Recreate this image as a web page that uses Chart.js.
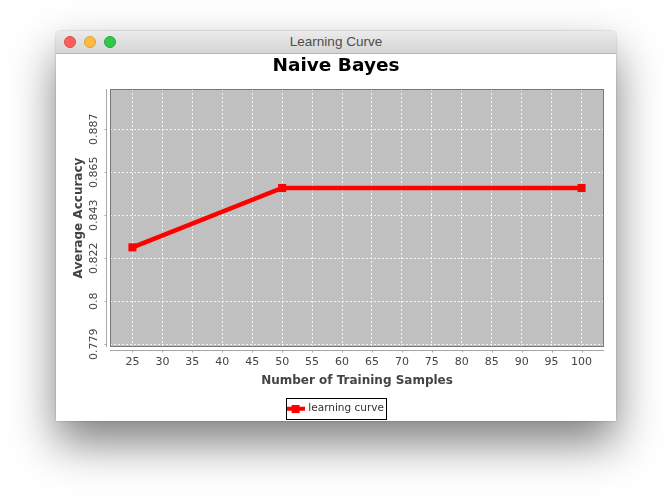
<!DOCTYPE html>
<html lang="en">
  <head>
    <meta charset="utf-8" />
    <title>Learning Curve</title>
    <style>
      * {
        margin: 0;
        padding: 0;
      }
      body {
        background: #fff;
        width: 672px;
        height: 501px;
        overflow: hidden;
      }
      .window {
        position: absolute;
        left: 56px;
        top: 31px;
        width: 560px;
        height: 390px;
        background: #fff;
        border-radius: 5px 5px 0 0;
        overflow: hidden;
        box-shadow: 0 22px 45px rgba(0, 0, 0, 0.5), 0 0 2px rgba(0, 0, 0, 0.3);
      }
      .titleBar {
        position: relative;
        height: 22px;
        border-bottom: 1px solid #b4b4b4;
        background: linear-gradient(#ebebeb, #d5d5d5);
        font-family: 'Liberation Sans', sans-serif;
        font-size: 13.5px;
        line-height: 22px;
        color: #4d4d4d;
        text-align: center;
      }
      .light {
        position: absolute;
        top: 5px;
        width: 12px;
        height: 12px;
        border-radius: 50%;
        box-sizing: border-box;
      }
      .red { left: 8px; background: #fc605c; border: 1px solid #e14942; }
      .yellow { left: 28px; background: #fdbc40; border: 1px solid #dfa034; }
      .green { left: 48px; background: #34c84a; border: 1px solid #25a73a; }
      .chartBox {
        position: relative;
        width: 560px;
        height: 370px;
      }
    </style>
  </head>
  <body>
    <div class="window">
      <div class="titleBar">
        <span class="light red"></span>
        <span class="light yellow"></span>
        <span class="light green"></span>
        Learning Curve
      </div>
      <div class="chartBox">
        <canvas id="myChart"></canvas>
      </div>
    </div>
    <script src="https://cdn.jsdelivr.net/npm/chart.js"></script>
    <script>
      // data
      const xValues = [25, 50, 100];
      const accuracy = [0.8273, 0.8571, 0.8571];
      const xTicks = [25, 30, 35, 40, 45, 50, 55, 60, 65, 70, 75, 80, 85, 90, 95, 100];
      const yTickValues = [0.7786, 0.8002, 0.8218, 0.8434, 0.865, 0.8866];
      const yTickLabels = ['0.779', '0.8', '0.822', '0.843', '0.865', '0.887'];

      Chart.defaults.font.family = '"DejaVu Sans", sans-serif';

      // legend marker: line with a square in the middle
      const legendMark = document.createElement('canvas');
      legendMark.width = 18;
      legendMark.height = 8;
      const m = legendMark.getContext('2d');
      m.fillStyle = '#ff0000';
      m.fillRect(0, 2, 18, 4);
      m.fillRect(5, 0, 8, 8);

      // plot background, outline, offset axes, rotated y labels, legend frame
      const plotFrame = {
        id: 'plotFrame',
        beforeDraw(chart) {
          const {
            ctx,
            chartArea: { left, top, width, height },
          } = chart;
          ctx.save();
          ctx.fillStyle = '#c0c0c0';
          ctx.fillRect(left, top, width, height);
          ctx.restore();
        },
        afterDraw(chart) {
          const {
            ctx,
            chartArea: { left, right, top, bottom },
            scales: { x, y },
          } = chart;
          ctx.save();

          ctx.strokeStyle = '#777';
          ctx.lineWidth = 1;
          ctx.strokeRect(left + 0.5, top + 0.5, right - left - 1, bottom - top - 1);

          // axis lines sit a few pixels off the plot
          ctx.strokeStyle = '#a8a8a8';
          ctx.beginPath();
          ctx.moveTo(left - 3.5, top);
          ctx.lineTo(left - 3.5, bottom);
          ctx.moveTo(left, bottom + 3.5);
          ctx.lineTo(right, bottom + 3.5);
          yTickValues.forEach((v) => {
            const py = Math.round(y.getPixelForValue(v)) + 0.5;
            ctx.moveTo(left - 5.5, py);
            ctx.lineTo(left - 3.5, py);
          });
          xTicks.forEach((v) => {
            const px = Math.round(x.getPixelForValue(v)) + 0.5;
            ctx.moveTo(px, bottom + 3.5);
            ctx.lineTo(px, bottom + 5.5);
          });
          ctx.stroke();

          ctx.fillStyle = '#444';
          ctx.font = '11px "DejaVu Sans"';
          ctx.textAlign = 'center';
          ctx.textBaseline = 'middle';
          yTickValues.forEach((v, i) => {
            ctx.save();
            ctx.translate(left - 16.3, y.getPixelForValue(v));
            ctx.rotate(-Math.PI / 2);
            ctx.fillText(yTickLabels[i], 0, 0);
            ctx.restore();
          });

          const box = chart.legend.legendHitBoxes[0];
          if (box) {
            const cy = box.top + box.height / 2;
            ctx.strokeStyle = '#000';
            ctx.strokeRect(Math.round(box.left - 2.5) + 0.5, Math.round(cy - 10.5) + 0.5, Math.round(box.width + 4.5), 21);
          }
          ctx.restore();
        },
      };

      const config = {
        type: 'line',
        data: {
          datasets: [
            {
              label: 'learning curve',
              data: xValues.map((v, i) => ({ x: v, y: accuracy[i] })),
              borderColor: '#ff0000',
              backgroundColor: '#ff0000',
              borderWidth: 4.5,
              tension: 0,
              pointStyle: 'rect',
              pointRadius: 5.7,
              pointBorderWidth: 0,
              pointBackgroundColor: '#ff0000',
              yAxisID: 'y',
            },
          ],
        },
        options: {
          responsive: true,
          maintainAspectRatio: false,
          animation: false,
          layout: {
            padding: { left: 6, right: 6, top: 0, bottom: 0 },
          },
          plugins: {
            title: {
              display: true,
              text: 'Naive Bayes',
              color: '#000',
              font: { size: 18.5, weight: 'bold' },
              padding: { top: 1.5, bottom: 11.3 },
            },
            legend: {
              position: 'bottom',
              labels: {
                usePointStyle: true,
                pointStyle: legendMark,
                pointStyleWidth: 15,
                padding: 14.5,
                color: '#333',
                font: { size: 10.5 },
              },
            },
            tooltip: { enabled: false },
          },
          scales: {
            x: {
              type: 'linear',
              position: 'bottom',
              min: 21.25,
              max: 103.75,
              afterBuildTicks: (s) => {
                s.ticks = xTicks.map((v) => ({ value: v }));
              },
              afterFit: (s) => {
                s.height = 42;
              },
              grid: { color: 'rgba(255,255,255,0.8)', drawTicks: false },
              border: { display: false, dash: [2, 2] },
              ticks: { color: '#444', font: { size: 11 }, padding: 9, maxRotation: 0, autoSkip: false },
              title: {
                display: true,
                text: 'Number of Training Samples',
                color: '#444',
                font: { size: 12, weight: 'bold' },
                padding: { top: 0, bottom: 0.5 },
              },
            },
            y: {
              type: 'linear',
              position: 'left',
              min: 0.77724,
              max: 0.90684,
              afterBuildTicks: (s) => {
                s.ticks = yTickValues.map((v) => ({ value: v }));
              },
              afterFit: (s) => {
                s.width = 48;
              },
              grid: { color: 'rgba(255,255,255,0.8)', drawTicks: false },
              border: { display: false, dash: [2, 2] },
              ticks: { display: false },
              title: {
                display: true,
                text: 'Average Accuracy',
                color: '#444',
                font: { size: 12, weight: 'bold' },
                padding: { top: 9.6, bottom: 0 },
              },
            },
            yRight: {
              position: 'right',
              grid: { display: false },
              ticks: { display: false },
              border: { display: false },
              afterFit: (s) => {
                s.width = 6;
              },
            },
          },
        },
        plugins: [plotFrame],
      };

      const myChart = new Chart(document.getElementById('myChart'), config);
    </script>
  </body>
</html>
